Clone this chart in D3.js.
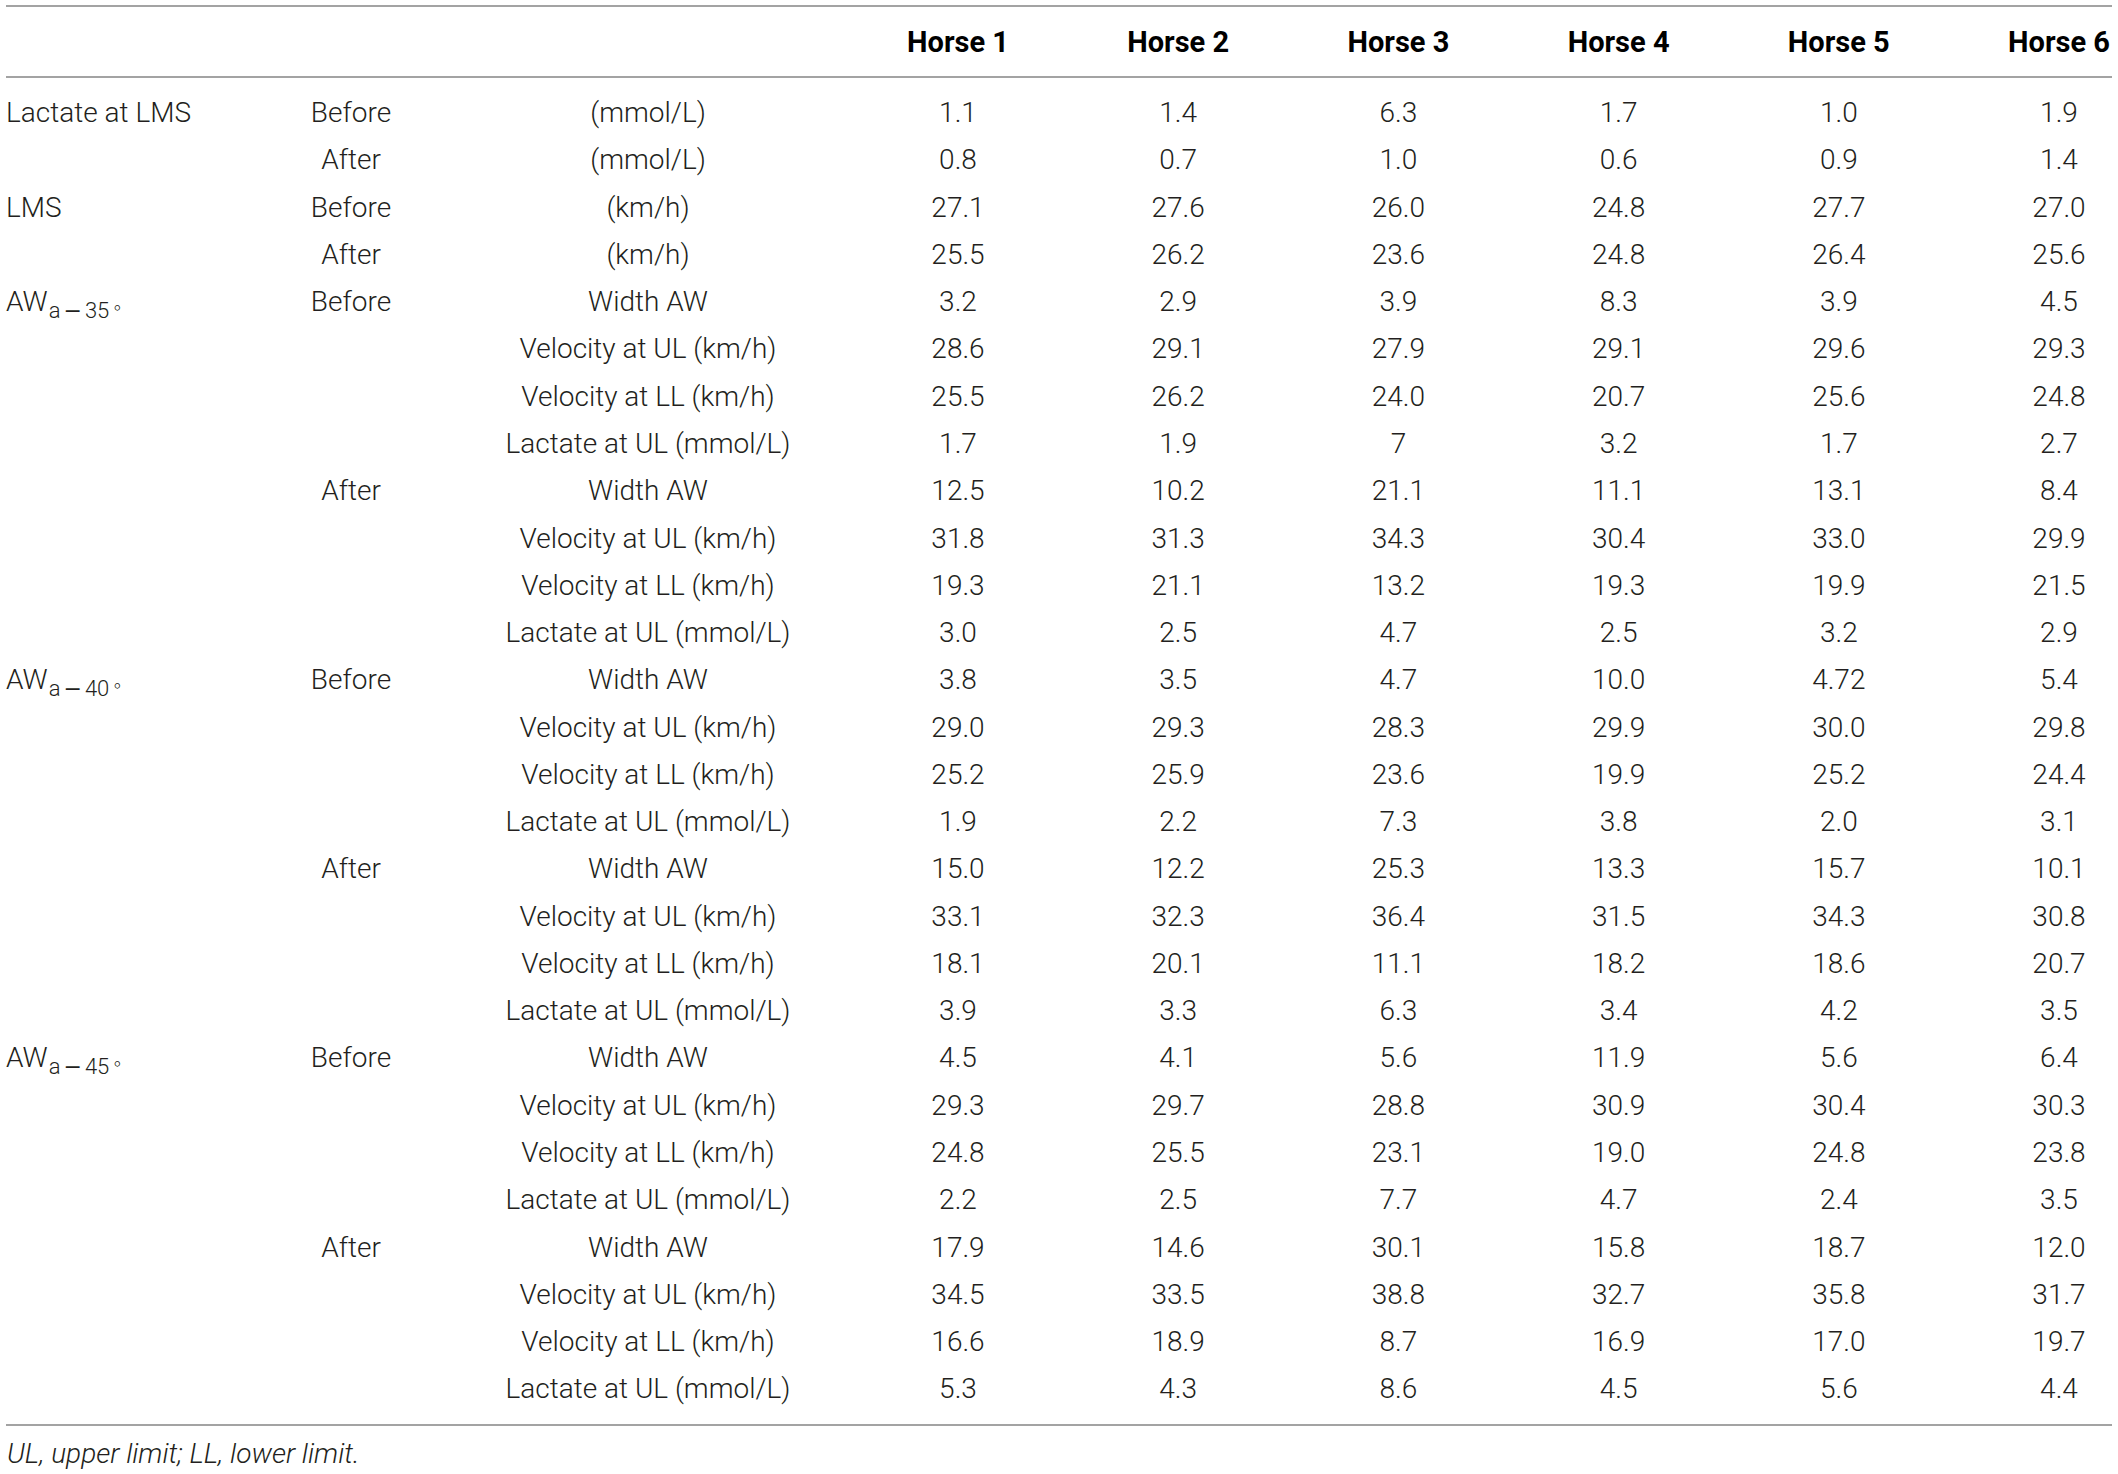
<!DOCTYPE html>
<html>
<head>
<meta charset="utf-8">
<script src="https://cdn.jsdelivr.net/npm/d3@7"></script>
<style>
  body { margin: 0; background: #fff; }
  svg { display: block; }
  text { font-family: Roboto, "Liberation Sans", sans-serif; font-weight: 300; font-size: 28px; fill: #231f20; }
  .head { font-weight: 700; font-size: 29px; fill: #000; }
  .note { font-style: italic; }
  .rule { stroke: #a3a3a3; stroke-width: 2; }
</style>
</head>
<body>
<svg id="table"></svg>
<script>
// table content
var horses = ["Horse 1", "Horse 2", "Horse 3", "Horse 4", "Horse 5", "Horse 6"];

// first column: group labels (main part, subscript)
var groups = [
  { row: 0, main: "Lactate at LMS", sub: "" },
  { row: 2, main: "LMS", sub: "" },
  { row: 4, main: "AW", sub: "35" },
  { row: 12, main: "AW", sub: "40" },
  { row: 20, main: "AW", sub: "45" }
];

var phases = [
  { row: 0, label: "Before" }, { row: 1, label: "After" },
  { row: 2, label: "Before" }, { row: 3, label: "After" },
  { row: 4, label: "Before" }, { row: 8, label: "After" },
  { row: 12, label: "Before" }, { row: 16, label: "After" },
  { row: 20, label: "Before" }, { row: 24, label: "After" }
];

var awMeasures = ["Width AW", "Velocity at UL (km/h)", "Velocity at LL (km/h)", "Lactate at UL (mmol/L)"];
var measures = ["(mmol/L)", "(mmol/L)", "(km/h)", "(km/h)"]
  .concat(awMeasures, awMeasures, awMeasures, awMeasures, awMeasures, awMeasures);

var horse1 = ["1.1", "0.8", "27.1", "25.5", "3.2", "28.6", "25.5", "1.7", "12.5", "31.8", "19.3", "3.0", "3.8", "29.0", "25.2", "1.9", "15.0", "33.1", "18.1", "3.9", "4.5", "29.3", "24.8", "2.2", "17.9", "34.5", "16.6", "5.3"];
var horse2 = ["1.4", "0.7", "27.6", "26.2", "2.9", "29.1", "26.2", "1.9", "10.2", "31.3", "21.1", "2.5", "3.5", "29.3", "25.9", "2.2", "12.2", "32.3", "20.1", "3.3", "4.1", "29.7", "25.5", "2.5", "14.6", "33.5", "18.9", "4.3"];
var horse3 = ["6.3", "1.0", "26.0", "23.6", "3.9", "27.9", "24.0", "7", "21.1", "34.3", "13.2", "4.7", "4.7", "28.3", "23.6", "7.3", "25.3", "36.4", "11.1", "6.3", "5.6", "28.8", "23.1", "7.7", "30.1", "38.8", "8.7", "8.6"];
var horse4 = ["1.7", "0.6", "24.8", "24.8", "8.3", "29.1", "20.7", "3.2", "11.1", "30.4", "19.3", "2.5", "10.0", "29.9", "19.9", "3.8", "13.3", "31.5", "18.2", "3.4", "11.9", "30.9", "19.0", "4.7", "15.8", "32.7", "16.9", "4.5"];
var horse5 = ["1.0", "0.9", "27.7", "26.4", "3.9", "29.6", "25.6", "1.7", "13.1", "33.0", "19.9", "3.2", "4.72", "30.0", "25.2", "2.0", "15.7", "34.3", "18.6", "4.2", "5.6", "30.4", "24.8", "2.4", "18.7", "35.8", "17.0", "5.6"];
var horse6 = ["1.9", "1.4", "27.0", "25.6", "4.5", "29.3", "24.8", "2.7", "8.4", "29.9", "21.5", "2.9", "5.4", "29.8", "24.4", "3.1", "10.1", "30.8", "20.7", "3.5", "6.4", "30.3", "23.8", "3.5", "12.0", "31.7", "19.7", "4.4"];

var footnote = "UL, upper limit; LL, lower limit.";

var W = 2118, H = 1474;
var columns = [horse1, horse2, horse3, horse4, horse5, horse6];

var svg = d3.select("#table").attr("width", W).attr("height", H);
svg.append("rect").attr("width", W).attr("height", H).attr("fill", "#fff");

var left = 6, right = 2112;

var y = d3.scaleBand()
  .domain(d3.range(measures.length))
  .range([88.5, 1412]);

var x = d3.scalePoint()
  .domain(horses)
  .range([958, 2059]);

var phaseX = 351, measureX = 648;
var base = 10; // baseline offset from row centre

function rowY(i) { return y(i) + y.bandwidth() / 2 + base; }

// rules
[6, 77, 1425].forEach(function(ly) {
  svg.append("line").attr("class", "rule")
    .attr("x1", left).attr("x2", right)
    .attr("y1", ly).attr("y2", ly);
});

// header
svg.selectAll("text.head")
  .data(horses)
  .enter().append("text")
  .attr("class", "head")
  .attr("x", function(d) { return x(d); })
  .attr("y", 52)
  .attr("text-anchor", "middle")
  .text(function(d) { return d; });

// group labels, AW ones get a "a − NN∘" subscript
var gl = svg.selectAll("text.group")
  .data(groups)
  .enter().append("text")
  .attr("class", "group")
  .attr("x", left)
  .attr("y", function(d) { return rowY(d.row); });
gl.append("tspan").text(function(d) { return d.main; });
var sub = gl.filter(function(d) { return d.sub; });
sub.append("tspan")
  .attr("dy", 7).attr("dx", 1)
  .attr("font-size", 22)
  .text("a");
sub.append("tspan")
  .attr("dx", 3)
  .attr("font-size", 22)
  .style("font-family", "'DejaVu Sans'")
  .style("font-weight", 400)
  .text("\u2212");
sub.append("tspan")
  .attr("dx", 3)
  .attr("font-size", 22)
  .text(function(d) { return d.sub; });
sub.append("tspan")
  .attr("dx", 2).attr("dy", -4)
  .attr("font-size", 20)
  .style("font-family", "'DejaVu Sans'")
  .text("\u2218");

// before / after
svg.selectAll("text.phase")
  .data(phases)
  .enter().append("text")
  .attr("class", "phase")
  .attr("x", phaseX)
  .attr("y", function(d) { return rowY(d.row); })
  .attr("text-anchor", "middle")
  .text(function(d) { return d.label; });

// measures
svg.selectAll("text.measure")
  .data(measures)
  .enter().append("text")
  .attr("class", "measure")
  .attr("x", measureX)
  .attr("y", function(d, i) { return rowY(i); })
  .attr("text-anchor", "middle")
  .text(function(d) { return d; });

// horse values
columns.forEach(function(col, c) {
  svg.selectAll("text.v" + c)
    .data(col)
    .enter().append("text")
    .attr("class", "v" + c)
    .attr("x", x(horses[c]))
    .attr("y", function(d, i) { return rowY(i); })
    .attr("text-anchor", "middle")
    .text(function(d) { return d; });
});

// footnote
svg.append("text")
  .attr("class", "note")
  .attr("x", 7)
  .attr("y", 1463)
  .text(footnote);
</script>
</body>
</html>
